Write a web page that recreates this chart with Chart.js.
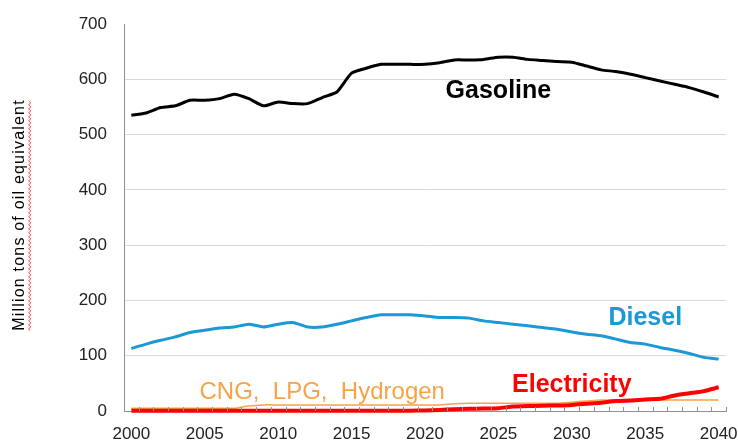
<!DOCTYPE html>
<html lang="en">
<head>
  <meta charset="UTF-8" />
  <title>Road transport fuel demand</title>
  <script src="https://cdn.jsdelivr.net/npm/chart.js"></script>
  <style>
    body {
      margin: 0;
      background: #ffffff;
    }
    #wrap {
      position: relative;
      width: 738px;
      height: 441px;
    }
  </style>
</head>
<body>
  <div id="wrap">
    <canvas id="fuelChart" width="738" height="441"></canvas>
  </div>

  <script>
    const years = [];
    for (let y = 2000; y <= 2040; y++) years.push(y);

    const gasoline = [
      535, 539, 549, 552, 562, 562, 565, 573, 565, 552,
      559, 556, 556, 567, 577, 611, 620, 627, 627, 627,
      627, 630, 635, 635, 636, 640, 640, 636, 634, 632,
      631, 624, 617, 614, 609, 603, 597, 591, 585, 577,
      568
    ];
    const diesel = [
      113, 121, 128, 134, 142, 146, 150, 152, 157, 152,
      157, 160, 152, 152, 157, 163, 169, 174, 174, 174,
      172, 169, 169, 168, 163, 160, 157, 154, 151, 148,
      143, 139, 136, 130, 124, 121, 115, 110, 104, 97,
      94
    ];
    const electricity = [
      0.5, 0.5, 0.5, 0.5, 0.5, 0.5, 0.5, 0.5, 0.5, 0.5,
      0.5, 0.5, 0.5, 0.5, 0.5, 0.5, 0.5, 0.5, 0.5, 0.5,
      1, 2, 3, 4, 4.5, 5, 8, 9, 9.5, 10,
      11, 13, 15, 18, 19, 21, 22, 28, 32, 36,
      43
    ];
    const cng = [
      5, 5, 5, 5, 5, 5, 5, 5, 9, 11,
      11, 11, 11, 11, 11, 11, 11, 11, 11, 11,
      11, 11, 13, 14, 14, 14, 14, 14, 14, 14,
      16, 18, 20, 20, 20, 20, 20, 20, 20, 20,
      20
    ];

    const yTicks = [0, 100, 200, 300, 400, 500, 600, 700];
    const yTitle = 'Million tons of oil equivalent';

    // series labels written on the plot, anchored to (year, value)
    const seriesLabels = [
      { text: 'Gasoline', year: 2025, value: 578, color: '#000000', bold: true },
      { text: 'Diesel', year: 2035, value: 168, color: '#1b98d5', bold: true },
      { text: 'Electricity', year: 2030, value: 47, color: '#ff0000', bold: true },
      { text: 'CNG,  LPG,  Hydrogen', year: 2013, value: 34, color: '#f7a348', bold: false }
    ];

    const FONT = "'Liberation Sans', Arial, sans-serif";

    const decorations = {
      id: 'decorations',
      afterDraw(chart) {
        const ctx = chart.ctx;
        const xs = chart.scales.x;
        const ys = chart.scales.y;
        ctx.save();

        // small inward tick marks at category boundaries
        ctx.strokeStyle = '#8c939c';
        ctx.lineWidth = 1;
        const step = (xs.right - xs.left) / years.length;
        for (let i = 0; i <= years.length; i++) {
          const px = Math.round(xs.left + i * step) + 0.5;
          ctx.beginPath();
          ctx.moveTo(px, ys.bottom);
          ctx.lineTo(px, ys.bottom - 4);
          ctx.stroke();
        }

        // series labels
        ctx.textAlign = 'center';
        ctx.textBaseline = 'middle';
        seriesLabels.forEach(l => {
          ctx.font = (l.bold ? 'bold 25px ' : '24px ') + FONT;
          ctx.fillStyle = l.color;
          ctx.fillText(l.text, xs.getPixelForValue(years.indexOf(l.year)), ys.getPixelForValue(l.value));
        });

        // y axis title with its red wavy underline
        ctx.translate(20, 215);
        ctx.rotate(-Math.PI / 2);
        ctx.font = '16px ' + FONT;
        ctx.letterSpacing = '1.2px';
        ctx.fillStyle = '#000000';
        ctx.fillText(yTitle, 0, 0);
        const w = ctx.measureText(yTitle).width;
        ctx.strokeStyle = '#ff5a5a';
        ctx.lineWidth = 1;
        ctx.beginPath();
        let up = true;
        ctx.moveTo(-w / 2, 10);
        for (let t = -w / 2 + 2; t <= w / 2; t += 2) {
          ctx.lineTo(t, up ? 8.5 : 11);
          up = !up;
        }
        ctx.stroke();
        ctx.restore();
      }
    };

    new Chart(document.getElementById('fuelChart'), {
      type: 'line',
      data: {
        labels: years,
        datasets: [
          { label: 'Gasoline', data: gasoline, borderColor: '#000000', borderWidth: 3, order: 1 },
          { label: 'Diesel', data: diesel, borderColor: '#1b98d5', borderWidth: 3, order: 2 },
          { label: 'Electricity', data: electricity, borderColor: '#ff0000', borderWidth: 4, order: 3 },
          { label: 'CNG, LPG, Hydrogen', data: cng, borderColor: '#f7a348', borderWidth: 1.5, order: 4 }
        ]
      },
      options: {
        responsive: false,
        animation: false,
        devicePixelRatio: 1,
        layout: { padding: { left: 0, right: 12, top: 24, bottom: 0 } },
        elements: {
          point: { radius: 0 },
          line: { tension: 0.2, fill: false }
        },
        datasets: { line: { clip: false } },
        plugins: {
          legend: { display: false },
          tooltip: { enabled: false }
        },
        scales: {
          x: {
            offset: true,
            grid: { display: false, offset: true },
            border: { color: '#8c939c', width: 1 },
            ticks: {
              autoSkip: false,
              maxRotation: 0,
              padding: 5,
              color: '#222222',
              font: { family: FONT, size: 17 },
              callback: (v, i) => (years[i] % 5 === 0 ? years[i] : '')
            },
            afterFit: s => { s.height = 30; s.paddingLeft = 0; s.paddingRight = 0; }
          },
          y: {
            min: 0,
            max: 700,
            afterBuildTicks: s => { s.ticks = yTicks.map(v => ({ value: v })); },
            grid: {
              color: c => (c.tick && c.tick.value === 700 ? 'rgba(0,0,0,0)' : '#d9d9d9'),
              drawTicks: false
            },
            border: { color: '#8c939c', width: 1 },
            ticks: {
              padding: 17,
              color: '#222222',
              font: { family: FONT, size: 17 }
            },
            afterFit: s => { s.width = 124; s.paddingTop = 0; s.paddingBottom = 0; }
          }
        }
      },
      plugins: [decorations]
    });
  </script>
</body>
</html>
